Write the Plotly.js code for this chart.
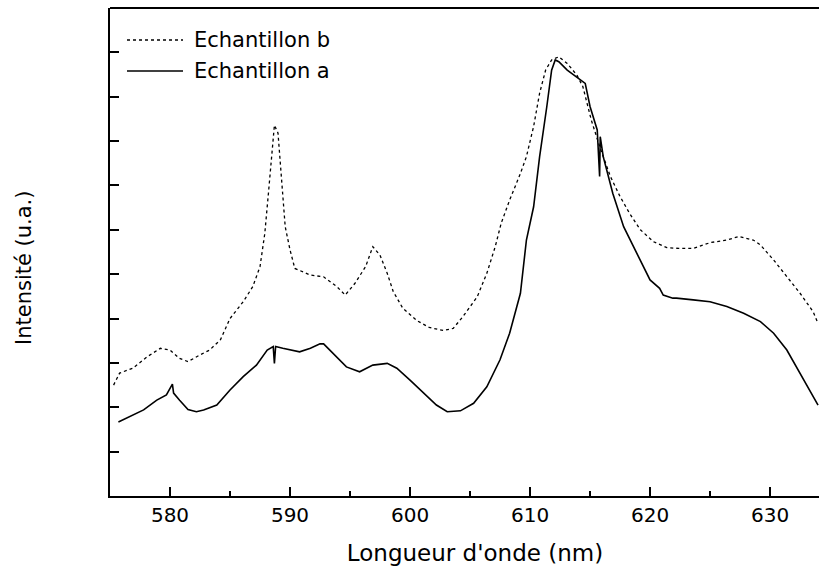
<!DOCTYPE html>
<html>
<head>
<meta charset="utf-8">
<script src="https://cdn.plot.ly/plotly-3.0.1.min.js"></script>
<style>
html,body{margin:0;padding:0;overflow:hidden;background:#fff;}
#chart{width:850px;height:579px;}
</style>
</head>
<body>
<div id="chart"></div>
<script>
// Echantillon a (solid)
const wlA = [575.7,576.7,577.8,578.9,579.7,580.2,580.3,580.8,581.5,582.2,582.8,583.9,585.0,586.1,587.2,588.1,588.6,588.7,588.8,589.4,590.8,591.7,592.5,592.8,593.6,594.7,595.8,596.9,598.1,598.9,600.0,601.1,602.2,603.1,604.2,605.3,606.4,607.5,608.3,609.2,609.7,610.3,610.8,611.4,611.8,612.1,612.4,613.1,613.9,614.6,615.0,615.6,615.8,615.85,616.1,616.9,617.8,618.9,620.0,620.8,621.1,621.9,622.2,623.6,625.0,626.4,627.8,629.2,630.3,631.4,632.5,633.3,634.0];
const intA = [1.67,1.79,1.94,2.16,2.28,2.52,2.32,2.16,1.95,1.90,1.94,2.05,2.39,2.69,2.95,3.29,3.37,2.99,3.37,3.33,3.25,3.33,3.43,3.43,3.22,2.91,2.80,2.95,2.99,2.88,2.61,2.32,2.05,1.90,1.92,2.09,2.46,3.07,3.67,4.57,5.77,6.52,7.65,8.78,9.60,9.83,9.79,9.60,9.45,9.30,8.78,8.25,7.20,8.10,7.65,6.82,6.07,5.47,4.87,4.68,4.53,4.46,4.46,4.42,4.38,4.27,4.12,3.93,3.67,3.29,2.77,2.39,2.05];
// Echantillon b (dotted)
const wlB = [575.3,575.8,576.9,578.1,579.2,580.0,580.8,581.5,582.5,583.3,584.2,585.0,586.1,586.9,587.5,587.9,588.2,588.5,588.7,589.0,589.3,589.6,590.0,590.4,591.7,592.8,593.9,594.6,595.4,596.3,596.9,597.5,598.1,598.6,599.4,600.6,601.6,602.8,603.6,604.4,605.6,606.4,607.1,607.6,608.3,609.2,609.7,610.3,610.8,611.3,611.8,612.4,613.1,613.9,614.4,615.1,615.8,616.7,617.5,618.3,619.2,620.3,621.4,622.4,623.6,625.0,626.4,627.4,628.6,629.2,630.3,631.4,632.5,633.6,634.0];
const intB = [2.50,2.77,2.88,3.14,3.33,3.29,3.10,3.03,3.18,3.29,3.52,4.00,4.38,4.72,5.17,5.92,6.82,7.80,8.36,8.18,7.05,6.07,5.55,5.13,4.98,4.94,4.72,4.53,4.79,5.17,5.62,5.43,5.02,4.61,4.23,3.95,3.80,3.73,3.78,4.04,4.49,5.02,5.62,6.15,6.67,7.27,7.65,8.33,9.08,9.60,9.83,9.90,9.75,9.49,9.23,8.48,7.88,7.20,6.75,6.37,6.00,5.73,5.60,5.58,5.58,5.71,5.77,5.85,5.77,5.66,5.32,4.94,4.57,4.15,3.89];
const names = ["Echantillon b","Echantillon a"];
const xTitle = "Longueur d'onde (nm)";
const yTitle = "Intensité (u.a.)";

const FONT = "DejaVu Sans, Arial, sans-serif";
const traces = [
  {x: wlB, y: intB, type:'scatter', mode:'lines', name:names[0], showlegend:false,
   line:{color:'#000', width:1.3, dash:'dot'}},
  {x: wlA, y: intA, type:'scatter', mode:'lines', name:names[1], showlegend:false,
   line:{color:'#000', width:1.6}}
];
// plot area: left 110px, right 840px (div 850 wide, page cut at 819), top 8, bottom 496
const L = 110, R = 840, T = 8, B = 496;
const px = v => (v - L) / (R - L);
const py = v => (B - v) / (B - T);
const layout = {
  width: 850, height: 579,
  margin: {l: L, r: 850 - R, t: T, b: 579 - B},
  paper_bgcolor: '#fff', plot_bgcolor: '#fff',
  font: {family: FONT, color: '#000'},
  showlegend: false,
  xaxis: {
    range: [575, 635.83], showgrid: false, zeroline: false,
    showline: true, linecolor: '#000', linewidth: 2,
    ticks: 'inside', ticklen: 9, tickwidth: 2, tickcolor: '#000',
    tick0: 580, dtick: 10,
    minor: {ticks: 'inside', ticklen: 5, tickwidth: 2, tickcolor: '#000', tick0: 575, dtick: 5, showgrid: false},
    tickfont: {family: FONT, size: 20, color: '#000'},
    title: {text: xTitle, font: {family: FONT, size: 23, color: '#000'}, standoff: 19}
  },
  yaxis: {
    range: [0, 11], showgrid: false, zeroline: false,
    showline: true, linecolor: '#000', linewidth: 2,
    ticks: 'inside', ticklen: 9, tickwidth: 2, tickcolor: '#000',
    tick0: 0, dtick: 1, showticklabels: false
  },
  shapes: [
    {type:'line', xref:'paper', yref:'paper', x0:0, x1:1, y0:1, y1:1, line:{color:'#000', width:2}},
    {type:'line', xref:'paper', yref:'paper', x0:px(127), x1:px(183), y0:py(40), y1:py(40), line:{color:'#000', width:1.3, dash:'dot'}},
    {type:'line', xref:'paper', yref:'paper', x0:px(127), x1:px(183), y0:py(71), y1:py(71), line:{color:'#000', width:1.6}}
  ],
  annotations: [
    {xref:'paper', yref:'paper', x:px(192), y:py(40), xanchor:'left', yanchor:'middle', showarrow:false,
     text: names[0], font:{family: FONT, size: 21, color:'#000'}},
    {xref:'paper', yref:'paper', x:px(192), y:py(71), xanchor:'left', yanchor:'middle', showarrow:false,
     text: names[1], font:{family: FONT, size: 21, color:'#000'}},
    {xref:'paper', yref:'paper', x:px(24), y:py(268), xanchor:'center', yanchor:'middle', showarrow:false,
     textangle:-90, text: yTitle, font:{family: FONT, size: 21, color:'#000'}}
  ]
};
Plotly.newPlot('chart', traces, layout, {staticPlot: true, displayModeBar: false});
</script>
</body>
</html>
